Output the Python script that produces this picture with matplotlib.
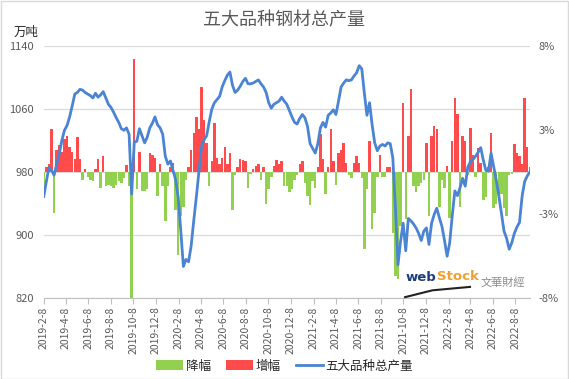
import numpy as np
import pandas as pd
import matplotlib
matplotlib.use('Agg')
import matplotlib.pyplot as plt
from matplotlib.patches import Rectangle
from matplotlib.lines import Line2D
from datetime import datetime

plt.rcParams['font.family'] = ['Noto Sans CJK SC', 'DejaVu Sans']

# weekly observations
dates = pd.date_range('2019-02-08', periods=189, freq='7D').to_pydatetime()

# 五大品种总产量 (万吨)
output = [
    949, 968, 986, 982, 976, 990, 1003, 1020, 1033, 1039,
    1050, 1064, 1079, 1081, 1085, 1084, 1081, 1079, 1077, 1074,
    1080, 1075, 1078, 1082, 1074, 1066, 1062, 1056, 1049, 1043,
    1035, 1033, 1036, 1028, 952, 1018, 1019, 1035, 1026, 1017,
    1024, 1036, 1042, 1050, 1040, 1036, 1028, 1000, 990, 994,
    982, 970, 948, 905, 860, 869, 866, 886, 918, 948,
    980, 1012, 1021, 1026, 1044, 1060, 1068, 1072, 1076, 1088,
    1096, 1103, 1107, 1090, 1081, 1084, 1089, 1095, 1099, 1092,
    1092, 1093, 1095, 1097, 1092, 1088, 1081, 1068, 1061, 1066,
    1068, 1070, 1075, 1070, 1066, 1058, 1050, 1043, 1041, 1048,
    1053, 1049, 1038, 1016, 1010, 1004, 1016, 1036, 1043, 1037,
    1052, 1055, 1059, 1053, 1070, 1088, 1093, 1097, 1096, 1097,
    1102, 1106, 1115, 1111, 1080, 1052, 1068, 1040, 1017, 1007,
    1013, 1015, 1013, 1017, 1016, 998, 935, 862, 892, 915,
    880, 921, 918, 914, 909, 902, 893, 905, 909, 888,
    915, 926, 934, 922, 911, 893, 873, 890, 925, 956,
    950, 960, 972, 962, 986, 993, 996, 1000, 1005, 1011,
    995, 982, 981, 1004, 987, 970, 950, 928, 905, 896,
    882, 890, 902, 910, 916, 949, 968, 975, 980,
]

# weekly change (%)
change = [
    -1.6, 0.3, 0.5, 2.7, -2.6, 1.4, 1.7, 1.3, 2.1, 2.3,
    1.6, 1.3, 0.8, 2.2, 0.8, -0.5, 0.2, -0.3, -0.5, -0.6,
    0.2, 0.8, -1.0, 1.0, -0.9, -0.8, -0.9, -1.0, -0.8, -0.6,
    -0.7, -0.4, 0.45, -0.9, -8.0, 7.2, -1.1, 1.3, -1.2, -1.2,
    -1.1, 1.2, 1.1, 0.9, -1.5, 0.5, -0.9, -3.1, -0.9, 0.3,
    0.6, -2.4, -5.3, -2.8, -2.2, -0.5, 0.3, 1.4, 2.5, 3.5,
    2.7, 5.4, 3.3, 1.85, -0.9, 0.7, 3.1, 0.9, 0.5, 0.9,
    1.6, 0.5, 1.2, -2.4, -0.2, 0.3, 0.8, 0.75, 0.7, -1.0,
    -0.1, 0.2, 0.4, 0.5, -0.5, 0.3, -2.0, -1.1, -0.3, 0.4,
    0.75, 0.5, 0.7, -0.9, -0.9, -1.3, -1.1, -0.5, -0.2, 0.5,
    0.7, -0.7, -1.5, -2.1, -0.6, -1.0, 0.3, 2.4, 0.8, -1.4,
    0.3, 2.7, 0.7, -0.8, 1.2, 1.4, 1.85, 0.6, -0.2, -0.4,
    0.55, 1.0, 0.6, -0.4, -4.9, -1.1, 2.0, -3.65, -2.6, -0.3,
    1.1, -0.3, -0.3, 0.3, 0.3, -3.9, -6.6, -6.8, -3.4, 4.4,
    -3.0, 2.3, 5.3, -0.9, -1.3, -0.9, -0.7, -0.5, 1.85, -2.8,
    2.3, 2.9, 2.7, -2.2, -0.5, -1.0, 0.4, -2.9, 2.0, 4.7,
    3.7, -2.2, 2.3, 2.0, -0.2, 2.8, 1.1, -0.3, 1.5, 0.6,
    -1.75, -1.6, 0.3, 2.5, -2.3, -2.0, -1.5, -1.4, -2.3, -2.8,
    -0.2, -0.1, 1.75, 1.2, 1.0, 0.5, 4.7, 1.6, 0.3,
]

tick_labels = ['2019-2-8', '2019-4-8', '2019-6-8', '2019-8-8', '2019-10-8', '2019-12-8',
               '2020-2-8', '2020-4-8', '2020-6-8', '2020-8-8', '2020-10-8', '2020-12-8',
               '2021-2-8', '2021-4-8', '2021-6-8', '2021-8-8', '2021-10-8', '2021-12-8',
               '2022-2-8', '2022-4-8', '2022-6-8', '2022-8-8']
left_ticks = [820, 900, 980, 1060, 1140]
right_ticks = [-8, -8 / 3, 8 / 3, 8]
right_labels = ['-8%', '-3%', '3%', '8%']

GREEN = '#92d050'
RED = '#ff4b4b'
BLUE = '#4a84d2'
GRAY = '#595959'

chg = np.array(change)
tick_pos = [datetime.strptime(s, '%Y-%m-%d') for s in tick_labels]

fig = plt.figure(figsize=(5.69, 3.79), dpi=100)
ax2 = fig.add_axes([0.0766, 0.2137, 0.8549, 0.6649])   # bars, right axis
ax = ax2.twinx()                                        # line, left axis
ax.yaxis.tick_left()
ax2.yaxis.tick_right()

# gridlines follow the left axis ticks
for v in left_ticks:
    ax2.axhline((v - 980) / 20, color='#d9d9d9', lw=0.9, zorder=0)

neg = np.where(chg < 0, chg, 0)
pos = np.where(chg > 0, chg, 0)
ax2.bar(dates, neg, width=6.6, color=GREEN, label='降幅', zorder=2)
ax2.bar(dates, pos, width=6.6, color=RED, label='增幅', zorder=2)
ax2.set_ylim(-8, 8)
ax2.set_yticks(right_ticks)
ax2.set_yticklabels(right_labels)

ax.plot(dates, output, color=BLUE, lw=2.0, label='五大品种总产量', zorder=3)
ax.set_ylim(820, 1140)
ax.set_yticks(left_ticks)
ax.set_yticklabels([str(v) for v in left_ticks])

ax2.set_xlim(dates[0] - pd.Timedelta(days=0.5), dates[-1] + pd.Timedelta(days=0.5))
ax2.set_xticks(tick_pos)
ax2.set_xticklabels(tick_labels, rotation=90)

for a in (ax, ax2):
    for s in a.spines.values():
        s.set_visible(False)
ax2.spines['bottom'].set_visible(True)
ax2.spines['bottom'].set_color('#bfbfbf')
ax.tick_params(axis='y', length=0, pad=7, labelsize=8, labelcolor=GRAY)
ax2.tick_params(axis='y', length=0, pad=6, labelsize=8, labelcolor=GRAY)
ax2.tick_params(axis='x', length=4, color='#bfbfbf', pad=2, labelsize=7.5, labelcolor=GRAY)

fig.text(0.5, 0.945, '五大品种钢材总产量', ha='center', va='center', fontsize=13, color=GRAY)
fig.text(0.046, 0.915, '万吨', ha='center', va='center', fontsize=9, color='#262626')

h1, l1 = ax2.get_legend_handles_labels()
h2, l2 = ax.get_legend_handles_labels()
fig.legend(h1 + h2, l1 + l2, loc='center', bbox_to_anchor=(0.5, 0.034), ncol=3,
           frameon=False, fontsize=9, handlelength=2.2, handleheight=0.8,
           columnspacing=1.2, handletextpad=0.2, labelcolor='#262626')

# watermark
t_web = fig.text(0.712, 0.268, 'web', fontsize=9.5, fontweight='bold', color='#1f3d7a',
                 ha='left', va='center', family='DejaVu Sans')
fig.canvas.draw()
x_next = t_web.get_window_extent().x1 / fig.bbox.width + 0.002
fig.text(x_next, 0.271, 'Stock', fontsize=9.5, fontweight='bold', color='#f0a030',
         ha='left', va='center', family='DejaVu Sans')
fig.text(0.845, 0.256, '文華財經', fontsize=8, color='#8c8c8c', ha='left', va='center')
fig.add_artist(Line2D([0.712, 0.76, 0.826], [0.216, 0.234, 0.243],
                      transform=fig.transFigure, color='#222222', lw=1.5))

fig.add_artist(Rectangle((0.001, 0.001), 0.998, 0.997, transform=fig.transFigure,
                         fill=False, edgecolor='#d9d9d9', lw=1))

fig.savefig('out.png', dpi=100)
